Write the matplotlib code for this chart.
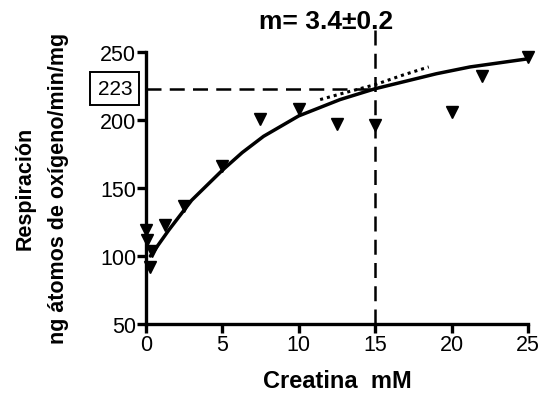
import matplotlib
matplotlib.use("Agg")
import matplotlib.pyplot as plt

plt.rcParams["font.family"] = ["Liberation Sans", "DejaVu Sans"]

# measured points (creatina mM, respiration)
creatina = [0, 0.1, 0.4, 0.25, 1.25, 2.5, 5, 7.5, 10, 12.5, 15, 20, 22, 25]
respiracion = [119, 112, 104, 92, 123, 137, 166, 201, 208, 197, 196, 206, 232, 246]

# fitted curve
fit_x = [0.3, 1.5, 3, 5, 6.3, 7.7, 10, 12.7, 15, 19, 21.2, 25]
fit_y = [100, 119, 141, 163, 176, 188, 203, 215, 223, 234, 239, 245]

# dotted curve
dot_x = [11.4, 13, 15, 16.8, 18.5]
dot_y = [215, 220, 226, 233, 239]

x_ticks = [0, 5, 10, 15, 20, 25]
y_ticks = [50, 100, 150, 200, 250]
mark_x = 15
mark_y = 223

fig = plt.figure(figsize=(5.4, 4.06), dpi=100)
ax = fig.add_axes([0.270, 0.1995, 0.708, 0.67])

ax.plot(fit_x, fit_y, color="black", lw=2.5, solid_capstyle="round")
ax.plot(dot_x, dot_y, color="black", lw=2.2, linestyle=(0, (1, 1.3)))
ax.plot(creatina, respiracion, linestyle="none", marker="v", ms=8.5,
        color="black", clip_on=False, zorder=5)

ax.plot([0, mark_x], [mark_y, mark_y], color="black", lw=1.8,
        linestyle=(0, (6, 3.3)), clip_on=False)
ax.plot([mark_x, mark_x], [50, 270], color="black", lw=1.8,
        linestyle=(0, (6, 3.3)), clip_on=False)

ax.set_xlim(0, 25)
ax.set_ylim(50, 250)
ax.set_xticks(x_ticks)
ax.set_yticks(y_ticks)
for s in ["top", "right"]:
    ax.spines[s].set_visible(False)
for s in ["left", "bottom"]:
    ax.spines[s].set_linewidth(2.4)
ax.tick_params(width=2.4, length=6.5, labelsize=15.5, pad=0.5)

ax.text(-0.081, mark_y, str(mark_y), transform=ax.get_yaxis_transform(),
        ha="center", va="center", fontsize=15,
        bbox=dict(boxstyle="square,pad=0.35", facecolor="white", edgecolor="black", lw=1.4))

ax.set_xlabel("Creatina  mM", fontsize=17, fontweight="bold", labelpad=10)
fig.text(0.047, 0.535, "Respiración", rotation=90, fontsize=15.5,
         fontweight="bold", ha="center", va="center")
fig.text(0.108, 0.535, "ng átomos de oxígeno/min/mg", rotation=90, fontsize=15.5,
         fontweight="bold", ha="center", va="center")
fig.text(0.603, 0.946, "m= 3.4±0.2", fontsize=19, fontweight="bold",
         ha="center", va="center")

fig.savefig("out.png", dpi=100)
